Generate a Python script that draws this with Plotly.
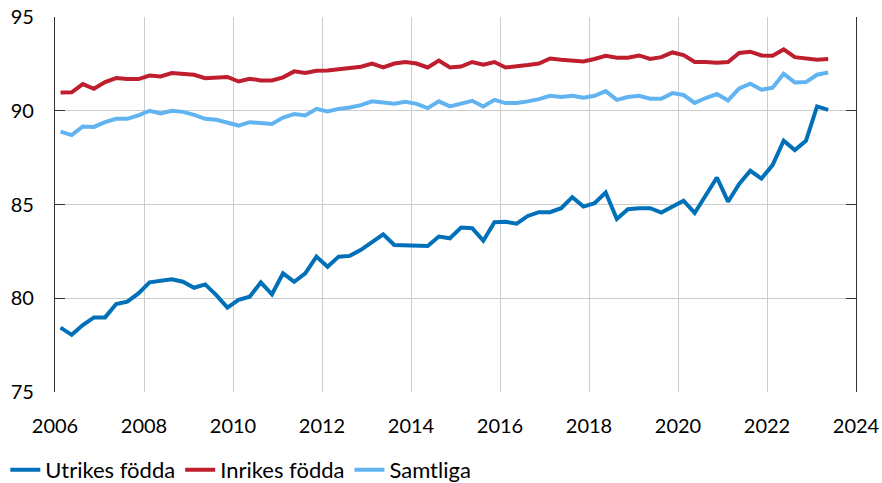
import plotly.graph_objects as go

# Quarterly observations 2006 Q1 - 2023 Q2
quarters = [f"{y}K{q}" for y in range(2006, 2024) for q in range(1, 5)][:70]

utrikes = [78.43, 78.05, 78.57, 78.98, 78.98, 79.69, 79.82, 80.26, 80.85, 80.94,
           81.01, 80.88, 80.56, 80.74, 80.17, 79.50, 79.91, 80.08, 80.85, 80.21,
           81.33, 80.88, 81.33, 82.22, 81.68, 82.22, 82.26, 82.58, 82.97, 83.41,
           82.84, 82.84, 82.79, 82.79, 83.29, 83.20, 83.77, 83.74, 83.07, 84.05,
           84.08, 83.98, 84.39, 84.59, 84.59, 84.80, 85.39, 84.89, 85.07, 85.64,
           84.23, 84.75, 84.80, 84.80, 84.57, 84.87, 85.20, 84.55, 85.45, 86.44,
           85.15, 86.10, 86.80, 86.38, 87.10, 88.40, 87.90, 88.40, 90.23, 90.05]

inrikes = [90.97, 90.98, 91.42, 91.17, 91.53, 91.74, 91.69, 91.69, 91.88, 91.83,
           92.01, 91.96, 91.92, 91.74, 91.78, 91.80, 91.56, 91.71, 91.62, 91.62,
           91.78, 92.10, 92.01, 92.13, 92.15, 92.22, 92.31, 92.35, 92.52, 92.31,
           92.52, 92.60, 92.52, 92.31, 92.68, 92.31, 92.36, 92.60, 92.45, 92.60,
           92.31, 92.35, 92.44, 92.52, 92.79, 92.72, 92.67, 92.63, 92.76, 92.93,
           92.83, 92.83, 92.95, 92.76, 92.86, 93.11, 92.97, 92.60, 92.60, 92.56,
           92.60, 93.08, 93.15, 92.95, 92.94, 93.27, 92.86, 92.79, 92.72, 92.76]

samtliga = [88.89, 88.70, 89.16, 89.14, 89.39, 89.57, 89.57, 89.75, 90.00, 89.85,
            90.00, 89.94, 89.78, 89.57, 89.52, 89.37, 89.21, 89.39, 89.37, 89.30,
            89.64, 89.82, 89.75, 90.10, 89.96, 90.10, 90.17, 90.30, 90.50, 90.41,
            90.37, 90.48, 90.37, 90.14, 90.50, 90.23, 90.37, 90.53, 90.23, 90.58,
            90.41, 90.41, 90.50, 90.62, 90.80, 90.73, 90.80, 90.69, 90.80, 91.05,
            90.58, 90.73, 90.80, 90.64, 90.64, 90.94, 90.84, 90.42, 90.68, 90.89,
            90.55, 91.19, 91.44, 91.12, 91.23, 91.97, 91.51, 91.53, 91.92, 92.04]

x_ticks = [2006, 2008, 2010, 2012, 2014, 2016, 2018, 2020, 2022, 2024]
y_ticks = [75, 80, 85, 90, 95]


def to_x(label):
    year, q = label.split("K")
    return int(year) + (int(q) - 0.5) / 4


x = [to_x(q) for q in quarters]

series = [
    ("Utrikes födda", utrikes, "#0070B8"),
    ("Inrikes födda", inrikes, "#BE1E2D"),
    ("Samtliga", samtliga, "#61B4F0"),
]

fig = go.Figure()
for name, vals, color in series:
    fig.add_trace(go.Scatter(x=x, y=vals, name=name, mode="lines",
                             line=dict(color=color, width=4)))

font = "Lato, 'Open Sans', sans-serif"
fig.update_layout(
    width=882, height=483,
    margin=dict(l=55, r=26, t=17, b=91, autoexpand=False),
    paper_bgcolor="white", plot_bgcolor="white",
    font=dict(family=font, size=20, color="black"),
    showlegend=True,
    legend=dict(orientation="h", x=-0.062, xanchor="left", y=-0.208, yanchor="middle",
                font=dict(size=22), itemwidth=30, tracegroupgap=0,
                bgcolor="rgba(0,0,0,0)"),
)
fig.update_xaxes(range=[2006, 2024], tickvals=x_ticks, ticktext=[str(t) for t in x_ticks],
                 showgrid=True, gridcolor="#cccccc", gridwidth=1.3, automargin=False,
                 showline=False, ticks="", zeroline=False, ticklabelstandoff=20)
fig.update_yaxes(range=[75, 95], tickvals=y_ticks, showgrid=True, gridcolor="#cccccc",
                 gridwidth=1.3, showline=True, linecolor="#333333", linewidth=1.3,
                 automargin=False,
                 mirror="ticks", ticks="inside", ticklen=10, tickcolor="#333333",
                 tickwidth=1.3, zeroline=False, ticklabelstandoff=16)

fig.write_html("out.html", config={"displayModeBar": False},
               post_script="document.body.style.margin='0';document.body.style.padding='0';")
